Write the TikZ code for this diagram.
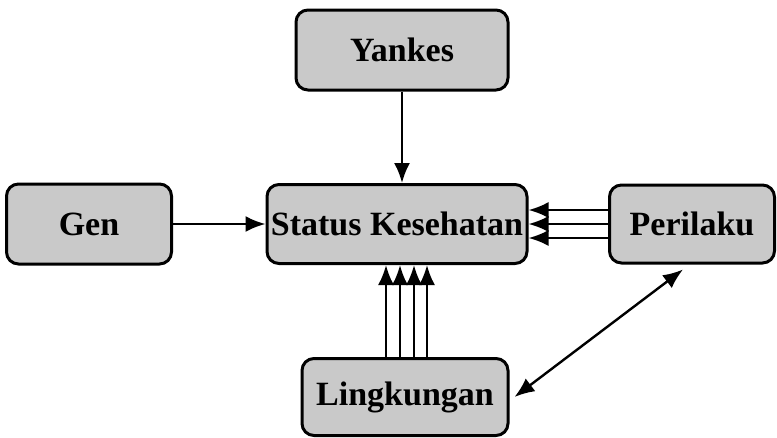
\documentclass[tikz,border=0pt]{standalone}
\usepackage{fontspec}
\setmainfont{Liberation Serif}
\usepackage{tikz}
\usetikzlibrary{shapes,arrows.meta,positioning}
\tikzset{
  factor/.style={
    rectangle,
    draw=black,
    line width=3pt,
    rounded corners=12pt,
    fill=gray!42,
    align=center,
    font=\fontsize{34}{38}\selectfont\bfseries
  },
  arrow/.style={
    -{Latex[length=20pt,width=16pt]},
    line width=2.4pt
  },
  twoway/.style={
    {Latex[length=20pt,width=16pt]}-{Latex[length=20pt,width=16pt]},
    line width=2.4pt
  }
}

\begin{document}
\begin{tikzpicture}[x=1pt, y=-1pt]
\useasboundingbox (0,0) rectangle (777,437);

% Central node
\node[factor, minimum width=260pt, minimum height=79pt] (status) at (397, 224) {Status Kesehatan};

% Four determinants
\node[factor, minimum width=212pt, minimum height=80pt] (yankes) at (402, 50) {Yankes};
\node[factor, minimum width=165pt, minimum height=80pt] (gen) at (89, 224) {Gen};
\node[factor, minimum width=165pt, minimum height=78pt] (perilaku) at (692, 224) {Perilaku};
\node[factor, minimum width=206pt, minimum height=77pt] (lingkungan) at (405, 397) {Lingkungan};

% Yankes and Gen to status
\draw[arrow] (yankes.south) -- (yankes.south |- status.north);
\draw[arrow] (gen.east) -- (status.west);

% Perilaku to status (three arrows)
\foreach \dy in {-14, 0, 14}
  \draw[arrow] ([yshift=\dy pt]perilaku.west) -- ([yshift=\dy pt]status.east);

% Lingkungan to status (four arrows)
\foreach \dx in {-19, -5, 9, 22}
  \draw[arrow] ([xshift=\dx pt]lingkungan.north) -- ([xshift=\dx pt]lingkungan.north |- status.south);

% Lingkungan and perilaku
\draw[twoway] ([xshift=5pt]lingkungan.east) -- ([xshift=-9pt, yshift=-5pt]perilaku.south);

\end{tikzpicture}
\end{document}
